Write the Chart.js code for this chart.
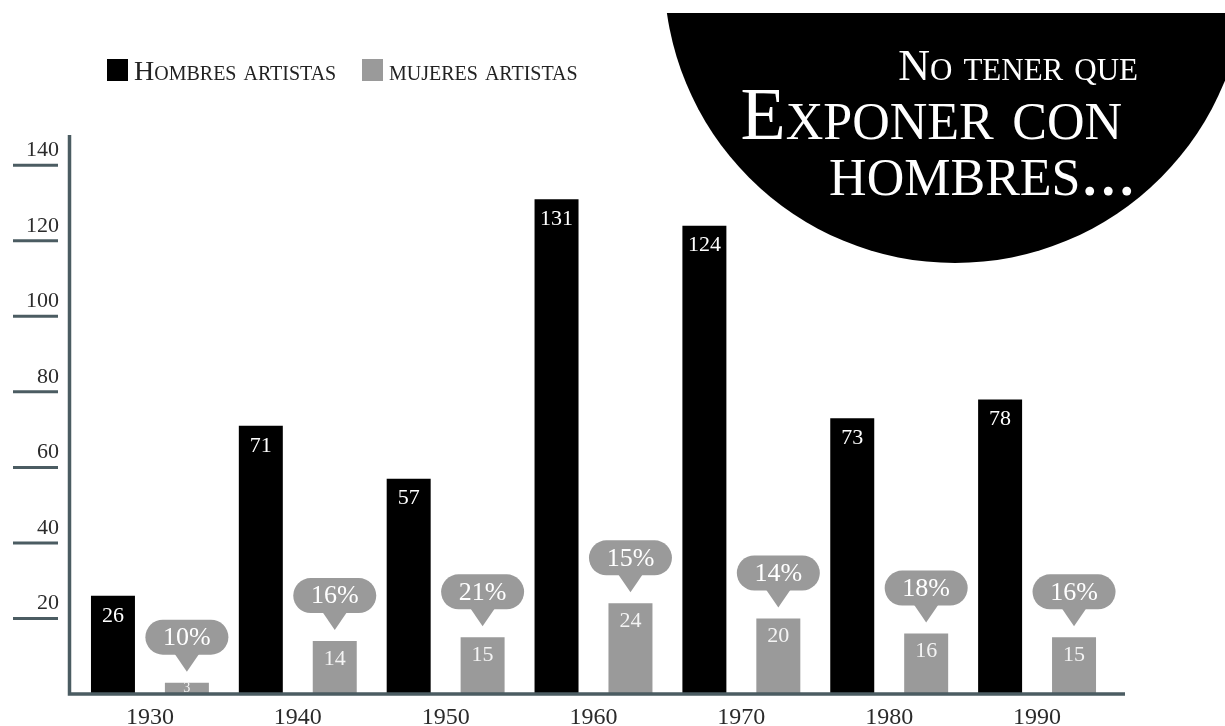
<!DOCTYPE html>
<html>
<head>
<meta charset="utf-8">
<title>Hombres y mujeres artistas</title>
<script src="https://cdn.jsdelivr.net/npm/chart.js@4.4.0/dist/chart.umd.min.js"></script>
<style>
  body { margin: 0; background: #fff; }
  canvas { display: block; }
</style>
</head>
<body>
<canvas id="grafico" width="1225" height="726"></canvas>
<script>
const decadas = ["1930", "1940", "1950", "1960", "1970", "1980", "1990"];
const hombres = [26, 71, 57, 131, 124, 73, 78];
const mujeres = [3, 14, 15, 24, 20, 16, 15];
const marcasY = [20, 40, 60, 80, 100, 120, 140];

const pizarra = "#4b5c62";
const gris = "#9a9a9a";
const serif = '"Liberation Serif", "DejaVu Serif", serif';

// porcentaje de mujeres sobre el total de la decada
function porcentaje(i) {
  return Math.round(mujeres[i] / (hombres[i] + mujeres[i]) * 100) + "%";
}

// circulo con el titulo y la leyenda
const fondo = {
  id: "fondo",
  beforeDraw(chart) {
    const ctx = chart.ctx;
    ctx.save();
    ctx.beginPath();
    ctx.rect(0, 13, chart.width, chart.height);
    ctx.clip();
    ctx.beginPath();
    ctx.arc(955, -28, 291, 0, Math.PI * 2);
    ctx.fillStyle = "#000";
    ctx.fill();
    ctx.restore();

    ctx.save();
    ctx.fillStyle = "#fff";
    ctx.textAlign = "right";
    ctx.textBaseline = "alphabetic";
    ctx.font = "small-caps 44px " + serif;
    ctx.fillText("No tener que", 1138, 80);
    ctx.font = "small-caps 74px " + serif;
    ctx.fillText("Exponer con", 1122, 139);
    ctx.font = "small-caps 74px " + serif;
    ctx.fillText("hombres...", 1136, 195);

    // leyenda
    ctx.textAlign = "left";
    ctx.font = "small-caps 28px " + serif;
    ctx.fillStyle = "#000";
    ctx.fillRect(107, 59, 21, 22);
    ctx.fillStyle = "#222";
    ctx.fillText("Hombres artistas", 134, 80);
    ctx.fillStyle = gris;
    ctx.fillRect(362, 59, 21, 22);
    ctx.fillStyle = "#222";
    ctx.fillText("mujeres artistas", 389, 80);
    ctx.restore();
  }
};

// ejes y etiquetas de las barras
const etiquetas = {
  id: "etiquetas",
  afterDatasetsDraw(chart) {
    const ctx = chart.ctx;
    const y = chart.scales.y;
    const area = chart.chartArea;
    ctx.save();

    // marcas del eje y: raya debajo del numero
    ctx.strokeStyle = pizarra;
    ctx.lineWidth = 3;
    ctx.fillStyle = "#2b2b2b";
    ctx.font = "22px " + serif;
    ctx.textAlign = "right";
    ctx.textBaseline = "alphabetic";
    marcasY.forEach((v) => {
      const py = y.getPixelForValue(v);
      ctx.beginPath();
      ctx.moveTo(13, py);
      ctx.lineTo(58, py);
      ctx.stroke();
      ctx.fillText(String(v), 59, py - 9);
    });

    // ejes
    ctx.lineWidth = 3.5;
    ctx.beginPath();
    ctx.moveTo(69.5, area.top);
    ctx.lineTo(69.5, area.bottom + 1.5);
    ctx.moveTo(67.75, area.bottom);
    ctx.lineTo(1125, area.bottom);
    ctx.stroke();

    ctx.textAlign = "center";
    ctx.textBaseline = "middle";

    // valores de los hombres
    const metaH = chart.getDatasetMeta(0);
    ctx.fillStyle = "#fff";
    ctx.font = "22px " + serif;
    metaH.data.forEach((bar, i) => {
      ctx.fillText(String(hombres[i]), bar.x, bar.y + 20);
    });

    // valores de las mujeres y globos con el porcentaje
    const metaM = chart.getDatasetMeta(1);
    metaM.data.forEach((bar, i) => {
      const alto = bar.base - bar.y;
      let fs = 22;
      let cy = bar.y + 18;
      if (alto < 30) {
        fs = Math.min(22, alto * 1.25);
        cy = (bar.y + bar.base) / 2;
      }
      ctx.fillStyle = "#f4f4f4";
      ctx.font = fs + "px " + serif;
      ctx.fillText(String(mujeres[i]), bar.x, cy);

      const abajo = bar.y - 28;
      const ancho = 83, altoG = 35, r = 17.5;
      const izq = bar.x - ancho / 2;
      ctx.fillStyle = gris;
      ctx.beginPath();
      ctx.roundRect(izq, abajo - altoG, ancho, altoG, r);
      ctx.fill();
      ctx.beginPath();
      ctx.moveTo(bar.x - 13, abajo - 2);
      ctx.lineTo(bar.x + 13, abajo - 2);
      ctx.lineTo(bar.x, bar.y - 11);
      ctx.closePath();
      ctx.fill();

      ctx.fillStyle = "#fff";
      ctx.font = "26px " + serif;
      ctx.fillText(porcentaje(i), bar.x, abajo - altoG / 2 + 1);
    });
    ctx.restore();
  }
};

new Chart(document.getElementById("grafico"), {
  type: "bar",
  data: {
    labels: decadas,
    datasets: [
      {
        label: "Hombres artistas",
        data: hombres,
        backgroundColor: "#000",
        categoryPercentage: 1,
        barPercentage: 0.595,
      },
      {
        label: "Mujeres artistas",
        data: mujeres,
        backgroundColor: gris,
        categoryPercentage: 1,
        barPercentage: 0.595,
      },
    ],
  },
  options: {
    responsive: false,
    animation: false,
    events: [],
    layout: {
      padding: { left: 76, right: 114, top: 135, bottom: -16 },
    },
    scales: {
      x: {
        grid: { display: false, drawTicks: false },
        border: { display: false },
        ticks: {
          color: "#2b2b2b",
          padding: 12,
          font: { family: serif, size: 24, lineHeight: 1 },
        },
      },
      y: {
        display: false,
        min: 0,
        max: 148,
      },
    },
    plugins: {
      legend: { display: false },
      tooltip: { enabled: false },
    },
  },
  plugins: [fondo, etiquetas],
});
</script>
</body>
</html>
